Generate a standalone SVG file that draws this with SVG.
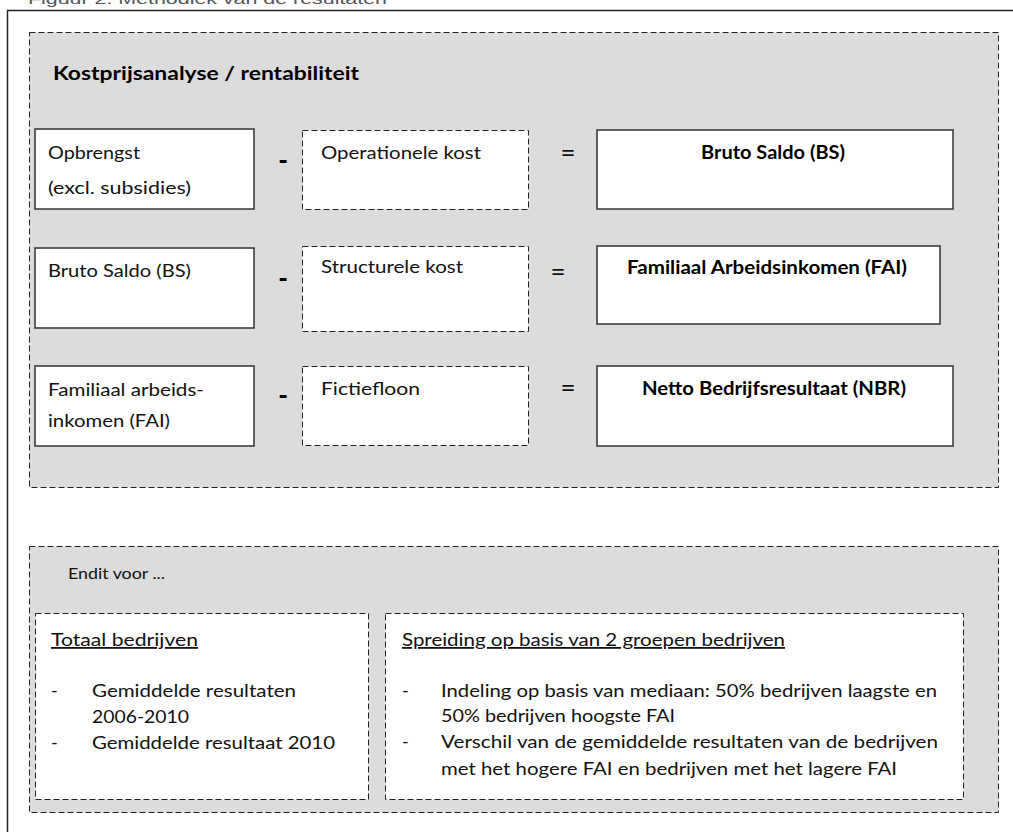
<svg xmlns="http://www.w3.org/2000/svg" width="1013" height="832" viewBox="0 0 1013 832">
<style>
.t{font-family:Lato,"Liberation Sans",sans-serif;font-size:18px;fill:#111}
.b{font-family:Lato,"Liberation Sans",sans-serif;font-size:18px;font-weight:bold;fill:#000}
.s{font-family:Lato,"Liberation Sans",sans-serif;font-size:15px;fill:#111}
.op{font-family:Lato,"Liberation Sans",sans-serif;font-size:26px;fill:#111;text-anchor:middle}
.mn{font-family:Lato,"Liberation Sans",sans-serif;font-size:26px;font-weight:900;fill:#000;text-anchor:middle}
.grp{fill:#dcdcdc;stroke:#222;stroke-width:1;stroke-dasharray:6 3}
.dash{fill:#fff;stroke:#222;stroke-width:1;stroke-dasharray:6 3}
.solid{fill:#fff;stroke:#333;stroke-width:1.5}
.u{text-decoration:underline}
</style>
<text x="28" y="4" font-family="'Liberation Sans',Arial,sans-serif" font-size="15" fill="#555" textLength="359" lengthAdjust="spacingAndGlyphs">Figuur 2: Methodiek van de resultaten</text>
<rect x="7.5" y="10.5" width="1020" height="840" fill="none" stroke="#222" stroke-width="1.5"/>

<g id="kostprijs-group">
<rect class="grp" x="29.5" y="32.5" width="969" height="455"/>
<text class="b" x="53" y="80" font-size="21" textLength="306" lengthAdjust="spacingAndGlyphs">Kostprijsanalyse / rentabiliteit</text>
</g>

<g id="opbrengst">
<rect class="solid" x="35" y="129" width="219" height="80"/>
<text class="t" x="48" y="159" textLength="92" lengthAdjust="spacingAndGlyphs">Opbrengst</text>
<text class="t" x="48" y="194" textLength="143" lengthAdjust="spacingAndGlyphs">(excl. subsidies)</text>
</g>
<g id="minus1"><text class="mn" x="283" y="170">-</text></g>
<g id="operationele-kost">
<rect class="dash" x="302.5" y="130.5" width="226" height="79"/>
<text class="t" x="321" y="159" textLength="160" lengthAdjust="spacingAndGlyphs">Operationele kost</text>
</g>
<g id="eq1"><text class="op" x="568" y="162">=</text></g>
<g id="bruto-saldo-result">
<rect class="solid" x="597" y="130" width="356" height="79"/>
<text class="b" x="701" y="159" textLength="144" lengthAdjust="spacingAndGlyphs">Bruto Saldo (BS)</text>
</g>

<g id="bruto-saldo">
<rect class="solid" x="35" y="248" width="219" height="80"/>
<text class="t" x="48" y="277" textLength="143" lengthAdjust="spacingAndGlyphs">Bruto Saldo (BS)</text>
</g>
<g id="minus2"><text class="mn" x="283" y="288">-</text></g>
<g id="structurele-kost">
<rect class="dash" x="302.5" y="246.5" width="226" height="85"/>
<text class="t" x="321" y="273" textLength="142" lengthAdjust="spacingAndGlyphs">Structurele kost</text>
</g>
<g id="eq2"><text class="op" x="558" y="281">=</text></g>
<g id="fai-result">
<rect class="solid" x="597" y="246" width="343" height="78"/>
<text class="b" x="627" y="274" textLength="280" lengthAdjust="spacingAndGlyphs">Familiaal  Arbeidsinkomen (FAI)</text>
</g>

<g id="fai">
<rect class="solid" x="35" y="366" width="219" height="80"/>
<text class="t" x="48" y="396" textLength="156" lengthAdjust="spacingAndGlyphs">Familiaal arbeids-</text>
<text class="t" x="48" y="427" textLength="122" lengthAdjust="spacingAndGlyphs">inkomen (FAI)</text>
</g>
<g id="minus3"><text class="mn" x="283" y="405">-</text></g>
<g id="fictief-loon">
<rect class="dash" x="302.5" y="366.5" width="226" height="79"/>
<text class="t" x="321" y="395" textLength="99" lengthAdjust="spacingAndGlyphs">Fictiefloon</text>
</g>
<g id="eq3"><text class="op" x="568" y="397">=</text></g>
<g id="nbr-result">
<rect class="solid" x="597" y="366" width="356" height="80"/>
<text class="b" x="642" y="395" textLength="264" lengthAdjust="spacingAndGlyphs">Netto Bedrijfsresultaat (NBR)</text>
</g>

<g id="en-dit-voor">
<rect class="grp" x="29.5" y="546.5" width="969" height="266"/>
<text class="s" x="68" y="579" textLength="97" lengthAdjust="spacingAndGlyphs">Endit voor ...</text>
</g>
<g id="totaal-bedrijven">
<rect class="dash" x="35.5" y="613.5" width="333" height="186"/>
<text class="t u" x="51" y="646" textLength="147" lengthAdjust="spacingAndGlyphs">Totaal bedrijven</text>
<text class="t" x="51" y="697">-</text>
<text class="t" x="92" y="697" textLength="204" lengthAdjust="spacingAndGlyphs">Gemiddelde resultaten</text>
<text class="t" x="92" y="723" textLength="97" lengthAdjust="spacingAndGlyphs">2006-2010</text>
<text class="t" x="51" y="749">-</text>
<text class="t" x="92" y="749" textLength="243" lengthAdjust="spacingAndGlyphs">Gemiddelde resultaat 2010</text>
</g>
<g id="spreiding">
<rect class="dash" x="385.5" y="613.5" width="578" height="186"/>
<text class="t u" x="402" y="646" textLength="383" lengthAdjust="spacingAndGlyphs">Spreiding op basis van 2 groepen bedrijven</text>
<text class="t" x="402" y="697">-</text>
<text class="t" x="441" y="697" textLength="496" lengthAdjust="spacingAndGlyphs">Indeling op basis van mediaan: 50% bedrijven laagste en</text>
<text class="t" x="441" y="722" textLength="234" lengthAdjust="spacingAndGlyphs">50% bedrijven hoogste FAI</text>
<text class="t" x="402" y="748">-</text>
<text class="t" x="441" y="748" textLength="497" lengthAdjust="spacingAndGlyphs">Verschil van de gemiddelde resultaten van de bedrijven</text>
<text class="t" x="441" y="775" textLength="456" lengthAdjust="spacingAndGlyphs">met het hogere FAI en bedrijven met het lagere FAI</text>
</g>
<g id="connectors"/>
</svg>
